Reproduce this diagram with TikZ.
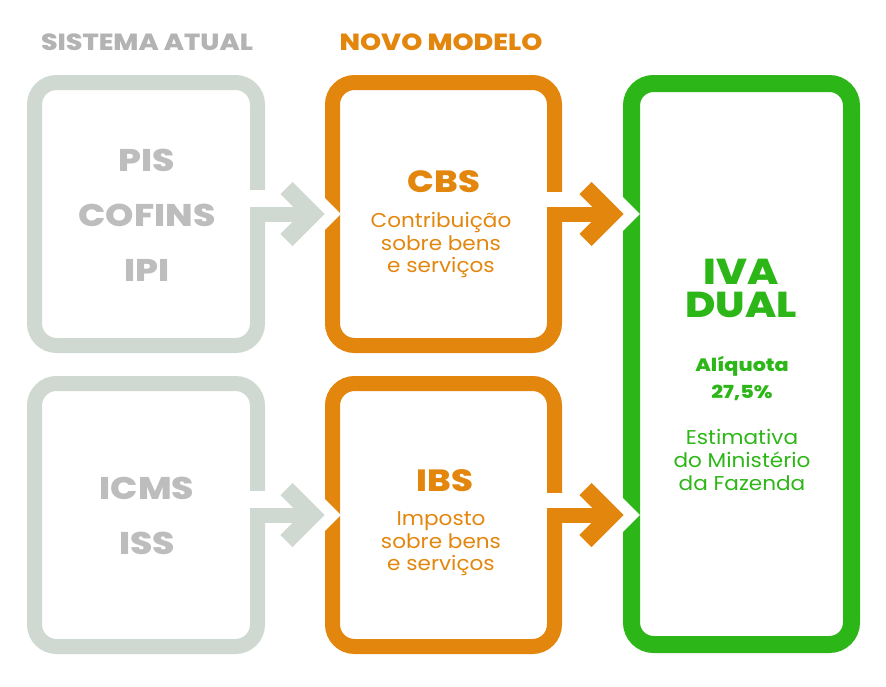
\documentclass[tikz,border=0pt]{standalone}
\usepackage{fontspec}
\setmainfont{Poppins}
\newfontfamily\grosso{Poppins ExtraBold}[FakeStretch=1.15]
\newfontfamily\fino{Poppins}[FakeStretch=1.08]
\usetikzlibrary{calc}
\definecolor{cinza}{HTML}{D0D9D1}
\definecolor{cinzatxt}{HTML}{BDBDBD}
\definecolor{cinzatit}{HTML}{B3B3B3}
\definecolor{laranja}{HTML}{E3860D}
\definecolor{verde}{HTML}{2DB617}
\tikzset{caixa/.style = {draw, rounded corners=16.5pt, line width=11.25pt, minimum width=167.25pt, minimum height=197.25pt, outer sep=0pt, inner sep=0pt}}
\tikzset{haste/.style = {line width=11.25pt}}
\tikzset{ponta/.style = {line width=12.75pt, miter limit=10}}
\tikzset{contorno/.style = {white, line width=30pt, miter limit=10}}
\tikzset{titulo/.style = {font=\grosso\fontsize{17.5}{19}\selectfont}}
\tikzset{sigla/.style = {font=\grosso\fontsize{23.5}{41.25}\selectfont, align=center}}
\tikzset{texto/.style = {font=\fino\fontsize{15}{16.9}\selectfont, align=center}}

\begin{document}
\begin{tikzpicture}[x=0.75pt, y=-0.75pt]
\useasboundingbox (0,0) rectangle (886,686);

% titulos
\node[titulo, text=cinzatit] (tit1) at (147,42) {SISTEMA ATUAL};
\node[titulo, text=laranja] (tit2) at (441,42) {NOVO MODELO};

% caixas
\node[caixa, draw=cinza] (g1) at (146,214) {};
\node[caixa, draw=cinza] (g2) at (146,515) {};
\node[caixa, draw=laranja, minimum width=166.5pt] (o1) at (443.5,214) {};
\node[caixa, draw=laranja, minimum width=166.5pt] (o2) at (443.5,515) {};
\node[caixa, draw=verde, line width=12.75pt, minimum width=165pt, minimum height=420.75pt] (v) at (741.5,364) {};

% textos
\node[sigla, text=cinzatxt] (tg1) at (147,215) {PIS\\COFINS\\IPI};
\node[sigla, text=cinzatxt] (tg2) at (147,516) {ICMS\\ISS};
\node[sigla, text=laranja, font=\grosso\fontsize{23}{26}\selectfont] (cbs) at (444,182) {CBS};
\node[texto, text=laranja] (tcbs) at (441,245) {Contribuição\\sobre bens\\e serviços};
\node[sigla, text=laranja, font=\grosso\fontsize{23}{26}\selectfont] (ibs) at (445,481) {IBS};
\node[texto, text=laranja] (tibs) at (441,544) {Imposto\\sobre bens\\e serviços};
\node[sigla, text=verde, font=\grosso\fontsize{27}{24.75}\selectfont] (iva) at (741,288) {IVA\\DUAL};
\node[sigla, text=verde, font=\grosso\fontsize{13.5}{20.25}\selectfont] (aliq) at (742,379) {Alíquota\\27,5\%};
\node[texto, text=verde] (est) at (742,460) {Estimativa\\do Ministério\\da Fazenda};

% setas
\coordinate (p1) at (o1.west);
\coordinate (p2) at (o2.west);
\coordinate (p3) at (o1.east -| v.west);
\coordinate (p4) at (o2.east -| v.west);

\fill[white] ($(g1.east)+(-10,-24)$) rectangle ($(g1.east)+(10,-7.5)$);
\draw[contorno] ($(p1)+(-46,-26)$) -- ($(p1)+(-20,0)$) -- ($(p1)+(-46,26)$);
\draw[haste, cinza] (g1.east) -- ($(p1)+(-24,0)$);
\draw[ponta, cinza] ($(p1)+(-46,-26)$) -- ($(p1)+(-20,0)$) -- ($(p1)+(-46,26)$);

\fill[white] ($(g2.east)+(-10,-24)$) rectangle ($(g2.east)+(10,-7.5)$);
\draw[contorno] ($(p2)+(-46,-26)$) -- ($(p2)+(-20,0)$) -- ($(p2)+(-46,26)$);
\draw[haste, cinza] (g2.east) -- ($(p2)+(-24,0)$);
\draw[ponta, cinza] ($(p2)+(-46,-26)$) -- ($(p2)+(-20,0)$) -- ($(p2)+(-46,26)$);

\fill[white] ($(o1.east)+(-10,-22)$) rectangle ($(o1.east)+(10,-7.5)$);
\draw[contorno] ($(p3)+(-46,-26)$) -- ($(p3)+(-20,0)$) -- ($(p3)+(-46,26)$);
\draw[haste, laranja] (o1.east) -- ($(p3)+(-24,0)$);
\draw[ponta, laranja] ($(p3)+(-46,-26)$) -- ($(p3)+(-20,0)$) -- ($(p3)+(-46,26)$);

\fill[white] ($(o2.east)+(-10,-22)$) rectangle ($(o2.east)+(10,-7.5)$);
\draw[contorno] ($(p4)+(-46,-26)$) -- ($(p4)+(-20,0)$) -- ($(p4)+(-46,26)$);
\draw[haste, laranja] (o2.east) -- ($(p4)+(-24,0)$);
\draw[ponta, laranja] ($(p4)+(-46,-26)$) -- ($(p4)+(-20,0)$) -- ($(p4)+(-46,26)$);
\end{tikzpicture}
\end{document}
